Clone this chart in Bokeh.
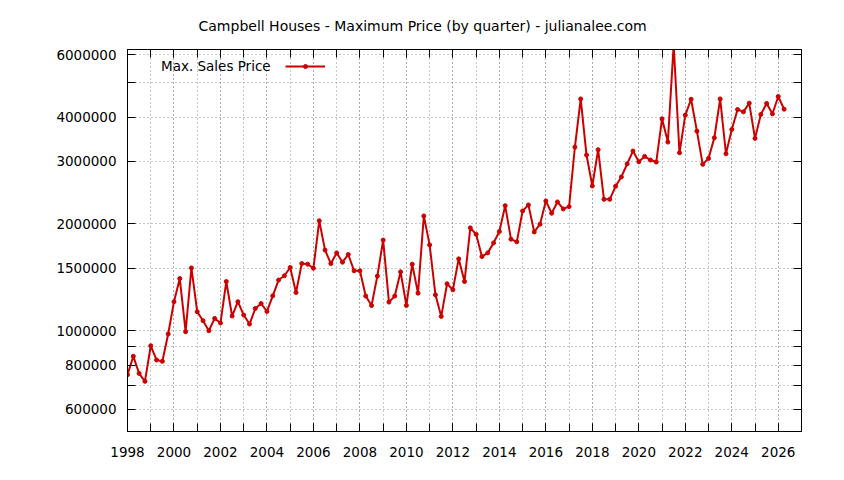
from bokeh.plotting import figure
from bokeh.models import (FixedTicker, LogAxis, LinearAxis, Legend, LegendItem,
                          PrintfTickFormatter, Range1d)
from bokeh.embed import file_html
from bokeh.resources import INLINE

# ---- data ----
years = list(range(1998, 2027))
quarter_offsets = [0.0, 0.25, 0.5, 0.75]
prices = [
    752000, 847000, 758000, 720000,      # 1998
    907000, 827000, 820000, 979000,      # 1999
    1207000, 1403000, 994000, 1503000,   # 2000
    1131000, 1067000, 1000000, 1083000,  # 2001
    1051000, 1376000, 1100000, 1207000,  # 2002
    1107000, 1044000, 1155000, 1193000,  # 2003
    1133000, 1254000, 1389000, 1428000,  # 2004
    1507000, 1281000, 1546000, 1540000,  # 2005
    1500000, 2040000, 1687000, 1546000,  # 2006
    1657000, 1560000, 1640000, 1475000,  # 2007
    1475000, 1252000, 1178000, 1425000,  # 2008
    1800000, 1204000, 1252000, 1465000,  # 2009
    1178000, 1540000, 1276000, 2106000,  # 2010
    1745000, 1262000, 1097000, 1356000,  # 2011
    1304000, 1594000, 1376000, 1949000,  # 2012
    1870000, 1618000, 1657000, 1768000,  # 2013
    1903000, 2251000, 1811000, 1780000,  # 2014
    2175000, 2262000, 1898000, 1996000,  # 2015
    2321000, 2143000, 2306000, 2204000,  # 2016
    2237000, 3291000, 4500000, 3126000,  # 2017
    2557000, 3236000, 2346000, 2346000,  # 2018
    2552000, 2712000, 2954000, 3208000,  # 2019
    2993000, 3099000, 3026000, 2987000,  # 2020
    3954000, 3400000, 6400000, 3172000,  # 2021
    4050000, 4490000, 3650000, 2943000,  # 2022
    3059000, 3497000, 4500000, 3152000,  # 2023
    3690000, 4202000, 4137000, 4377000,  # 2024
    3483000, 4069000, 4368000, 4085000,  # 2025
    4570000, 4210000,                    # 2026
]
quarters = [y + q for y in years for q in quarter_offsets][:len(prices)]

x_major_ticks = list(range(1998, 2027, 2))
x_minor_ticks = list(range(1998, 2028))
y_major_ticks = [600000, 800000, 1000000, 1500000, 2000000, 3000000, 4000000, 6000000]
y_minor_ticks = [700000, 900000, 5000000]

title_text = "Campbell Houses - Maximum Price (by quarter) - julianalee.com"
series_name = "Max. Sales Price"

FONT = "DejaVu Sans"
FSIZE = "13.5px"
RED = "#cc0000"
GRID = "#909090"

p = figure(width=836, height=472, output_backend="svg", toolbar_location=None,
           y_axis_type="log", x_range=Range1d(1998, 2027),
           y_range=Range1d(520000, 6200000),
           min_border_left=127, min_border_right=35, min_border_top=48,
           min_border_bottom=41)

p.title.text = title_text
p.title.align = "left"
p.title.offset = 71
p.title.text_font = FONT
p.title.text_font_size = "14px"
p.title.text_font_style = "normal"
p.title.text_color = "black"
p.title.standoff = 31

line = p.line(quarters, prices, line_color=RED, line_width=2)
dots = p.scatter(quarters, prices, size=4, fill_color=RED, line_color=RED)
# invisible twin used only to reserve the legend's leading slot
ghost = p.line(quarters, prices, line_alpha=0)

xt = FixedTicker(ticks=x_major_ticks, minor_ticks=x_minor_ticks)
yt = FixedTicker(ticks=y_major_ticks, minor_ticks=y_minor_ticks)

def style_axis(ax, ticker, show_labels=True):
    ax.ticker = ticker
    ax.axis_line_color = "black"
    ax.major_tick_in = 8
    ax.major_tick_out = 0
    ax.minor_tick_in = 8
    ax.minor_tick_out = 0
    ax.major_tick_line_color = "black"
    ax.minor_tick_line_color = "black"
    ax.major_label_text_font = FONT
    if show_labels:
        ax.major_label_text_font_size = FSIZE
        ax.major_label_text_color = "black"
    else:
        ax.major_label_text_font_size = "0px"
        ax.major_label_text_color = None
        ax.major_label_standoff = 0

xa = p.xaxis[0]
style_axis(xa, xt)
xa.major_label_standoff = 15
ya = p.yaxis[0]
style_axis(ya, yt)
ya.formatter = PrintfTickFormatter(format="%d")
ya.major_label_standoff = 11

top_ax = LinearAxis()
style_axis(top_ax, xt, show_labels=False)
p.add_layout(top_ax, "above")
right_ax = LogAxis()
style_axis(right_ax, yt, show_labels=False)
p.add_layout(right_ax, "right")

for g, t in ((p.xgrid[0], xt), (p.ygrid[0], yt)):
    g.ticker = t
    g.grid_line_color = GRID
    g.grid_line_dash = "1 3"
    g.grid_line_width = 1
    g.minor_grid_line_color = GRID
    g.minor_grid_line_dash = "1 3"
    g.minor_grid_line_width = 1

p.outline_line_color = "black"
p.outline_line_width = 1
p.background_fill_color = "white"
p.border_fill_color = "white"

legend = Legend(items=[LegendItem(label=series_name, renderers=[ghost]),
                       LegendItem(label=" ", renderers=[line, dots])],
                orientation="horizontal",
                location=(-11, 357), padding=0, margin=0, spacing=14,
                glyph_width=40, glyph_height=10, label_height=10,
                label_standoff=5,
                label_text_font=FONT, label_text_font_size=FSIZE,
                label_text_color="black",
                background_fill_alpha=0, border_line_color=None)
p.add_layout(legend)

open("out.html", "w").write(file_html(p, INLINE))
